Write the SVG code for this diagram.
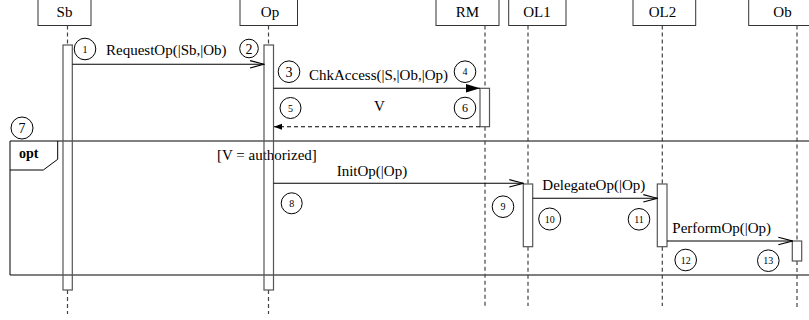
<svg xmlns="http://www.w3.org/2000/svg" width="809" height="320" viewBox="0 0 809 320">
<defs>
<style>
text{font-family:'Liberation Serif','DejaVu Serif',serif;fill:#000}
.hd{fill:#fff;stroke:#333;stroke-width:1}
.hdt{font-size:15px;text-anchor:middle}
.life{stroke:#444;stroke-width:1.2;stroke-dasharray:4 3;fill:none}
.bar{fill:none;stroke:#555;stroke-width:1.2}
.msg{stroke:#000;stroke-width:1.1;fill:none}
.ret{stroke:#000;stroke-width:1.1;fill:none;stroke-dasharray:4 3}
.lbl{font-size:15px}
.num{fill:#fff;stroke:#000;stroke-width:1}
.nt{text-anchor:middle}
.frame{fill:none;stroke:#000;stroke-width:1}
</style>
<marker id="open" markerWidth="16" markerHeight="10" refX="15" refY="5" orient="auto" markerUnits="userSpaceOnUse">
<path d="M1,1.3 L15,5 L1,8.7" fill="none" stroke="#000" stroke-width="1.1"/>
</marker>
<marker id="fill" markerWidth="16" markerHeight="10" refX="15" refY="5" orient="auto" markerUnits="userSpaceOnUse">
<path d="M1,0.7 L15,5 L1,9.3 Z" fill="#000"/>
</marker>
<marker id="small" markerWidth="10" markerHeight="8" refX="9" refY="4" orient="auto" markerUnits="userSpaceOnUse">
<path d="M1,1 L9,4 L1,7 Z" fill="#000"/>
</marker>
</defs>
<rect width="809" height="320" fill="#fff"/>
<g font-family="Liberation Serif, DejaVu Serif, serif">

<g id="frame-opt">
<path class="frame" d="M815,141 H10 V275 H815"/>
<path class="frame" d="M10,170 H43.3 L57.7,159.3 V141"/>
<text x="19" y="158" style="font-size:14px;font-weight:bold">opt</text>
<text x="217" y="160" class="lbl">[V = authorized]</text>
</g>

<g id="Sb">
<rect class="hd" x="38" y="-5" width="53" height="30.5"/>
<text class="hdt" x="64.5" y="17">Sb</text>
<path class="life" d="M67.5,25.5 V45 M67.5,290 V314"/>
<rect class="bar" x="63" y="45" width="9.3" height="245"/>
</g>

<g id="Op">
<rect class="hd" x="240" y="-5" width="57.5" height="30.5"/>
<text class="hdt" x="270" y="17">Op</text>
<path class="life" d="M268.5,25.5 V45 M268.5,290 V314"/>
<rect class="bar" x="264" y="45" width="9.5" height="245"/>
</g>

<g id="RM">
<rect class="hd" x="436" y="-5" width="63" height="30.5"/>
<text class="hdt" x="467.5" y="17">RM</text>
<path class="life" d="M485,25.5 V88.3 M485,126.7 V306"/>
<rect class="bar" x="480" y="88.3" width="9.5" height="38.4"/>
</g>

<g id="OL1">
<rect class="hd" x="508.7" y="-5" width="57.3" height="30.5"/>
<text class="hdt" x="537" y="17">OL1</text>
<path class="life" d="M528,25.5 V184 M528,246.7 V306"/>
<rect class="bar" x="523.3" y="184" width="9.4" height="62.7"/>
</g>

<g id="OL2">
<rect class="hd" x="633" y="-5" width="62.7" height="30.5"/>
<text class="hdt" x="662.5" y="17">OL2</text>
<path class="life" d="M662.3,25.5 V184 M662.3,246.7 V306"/>
<rect class="bar" x="657.3" y="184" width="9.7" height="62.7"/>
</g>

<g id="Ob">
<rect class="hd" x="748.7" y="-5" width="70" height="30.5"/>
<text class="hdt" x="782.5" y="17">Ob</text>
<path class="life" d="M797,25.5 V241 M797,261 V308"/>
<rect class="bar" x="792.3" y="241" width="9.4" height="20"/>
</g>

<g id="connectors">
<path class="msg" d="M72.3,64.3 H264" marker-end="url(#open)"/>
<text class="lbl" x="106" y="55">RequestOp(|Sb,|Ob)</text>
<path class="msg" d="M273.5,88.3 H480" marker-end="url(#fill)"/>
<text class="lbl" x="309" y="79.5">ChkAccess(|S,|Ob,|Op)</text>
<path class="ret" d="M480,126.7 H274" marker-end="url(#small)"/>
<text class="lbl" x="374" y="111">V</text>
<path class="msg" d="M273.5,183.3 H523.3" marker-end="url(#open)"/>
<text class="lbl" x="336.7" y="176">InitOp(|Op)</text>
<path class="msg" d="M532.7,198.3 H657.3" marker-end="url(#open)"/>
<text class="lbl" x="542.3" y="190">DelegateOp(|Op)</text>
<path class="msg" d="M667,241 H792.3" marker-end="url(#open)"/>
<text class="lbl" x="672.3" y="232.7">PerformOp(|Op)</text>
</g>

<g id="steps">
<circle class="num" cx="85" cy="49" r="10.8"/><text class="nt" x="85" y="52.5" style="font-size:10px">1</text>
<circle class="num" cx="249" cy="48.5" r="9.3"/><text class="nt" x="249" y="53.5" style="font-size:14px">2</text>
<circle class="num" cx="289" cy="71.7" r="10.8"/><text class="nt" x="289" y="76.7" style="font-size:14px">3</text>
<circle class="num" cx="465" cy="71.7" r="10.8"/><text class="nt" x="465" y="75.2" style="font-size:10px">4</text>
<circle class="num" cx="290.5" cy="108" r="10.5"/><text class="nt" x="290.5" y="111.5" style="font-size:10px">5</text>
<circle class="num" cx="465" cy="108" r="10.8"/><text class="nt" x="465" y="112" style="font-size:12px">6</text>
<circle class="num" cx="22" cy="128" r="11"/><text class="nt" x="22" y="133" style="font-size:14px">7</text>
<circle class="num" cx="291.7" cy="203.3" r="10.5"/><text class="nt" x="291.7" y="206.8" style="font-size:10px">8</text>
<circle class="num" cx="503" cy="206.7" r="10.8"/><text class="nt" x="503" y="210.2" style="font-size:10px">9</text>
<circle class="num" cx="549.7" cy="219" r="11"/><text class="nt" x="549.7" y="222.5" style="font-size:10px">10</text>
<circle class="num" cx="639" cy="219.3" r="10.8"/><text class="nt" x="639" y="222.8" style="font-size:10px">11</text>
<circle class="num" cx="685.7" cy="260" r="10.8"/><text class="nt" x="685.7" y="263.5" style="font-size:10px">12</text>
<circle class="num" cx="768.3" cy="260.7" r="10.8"/><text class="nt" x="768.3" y="264.2" style="font-size:10px">13</text>
</g>
</g>
</svg>
